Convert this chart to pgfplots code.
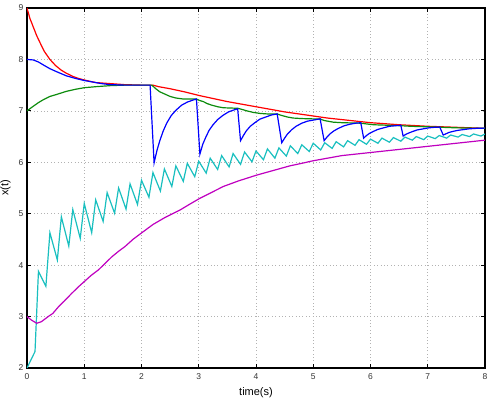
\documentclass[border=0pt]{standalone}
\usepackage{pgfplots}
\pgfplotsset{compat=1.18}
\usepackage{fontspec}
\setmainfont{Liberation Sans}
\definecolor{mred}{rgb}{1,0,0}
\definecolor{mblue}{rgb}{0,0,1}
\definecolor{mgreen}{rgb}{0.05,0.55,0.05}
\definecolor{mcyan}{rgb}{0.1,0.75,0.75}
\definecolor{mmag}{rgb}{0.75,0,0.75}
\begin{document}
\begin{tikzpicture}
\useasboundingbox (-27pt,-33pt) rectangle (466pt,368pt);
\begin{axis}[
  at={(0,0)}, anchor=south west,
  scale only axis, width=458pt, height=360pt,
  xmin=0, xmax=8, ymin=2, ymax=9,
  xtick={0,1,...,8}, ytick={2,3,...,9},
  grid=major,
  major grid style={dash pattern=on 0.8pt off 2.6pt, gray!60, line width=0.7pt},
  tick align=inside,
  major tick length=4pt,
  every tick/.style={black, line width=0.8pt},
  axis line style={black, line width=1.2pt},
  tick label style={font=\fontsize{8.5}{9}\selectfont, text=black!80},
  /pgf/number format/assume math mode=true,
  xticklabel style={yshift=-2pt},
  xlabel={time(s)}, ylabel={x(t)},
  every axis x label/.style={at={(axis description cs:0.5,-0.069)}, anchor=center, font=\fontsize{11}{12}\selectfont},
  every axis y label/.style={at={(axis description cs:-0.047,0.5)}, rotate=90, anchor=center, font=\fontsize{11}{12}\selectfont},
  every axis plot/.append style={line width=1.2pt},
  clip=true,
]
% red
\addplot[mred] coordinates {(0,9.0)(0.05,8.80)(0.11,8.63)(0.17,8.46)(0.23,8.32)(0.3,8.16)(0.4,8.0)(0.5,7.88)(0.6,7.79)(0.69,7.73)(0.8,7.67)(0.9,7.63)(1.0,7.6)(1.2,7.55)(1.45,7.53)(1.7,7.51)(2.0,7.5)(2.2,7.5)(2.3,7.47)(2.5,7.43)(2.75,7.37)(3.0,7.3)(3.25,7.24)(3.5,7.18)(3.75,7.13)(4.0,7.08)(4.25,7.03)(4.5,6.98)(4.75,6.94)(5.0,6.9)(5.25,6.86)(5.5,6.83)(5.75,6.8)(6.0,6.77)(6.5,6.73)(7.0,6.7)(7.5,6.68)(8.0,6.66)};
% green
\addplot[mgreen] coordinates {(0,7.0)(0.11,7.09)(0.2,7.16)(0.29,7.22)(0.4,7.28)(0.52,7.32)(0.69,7.38)(0.85,7.42)(1.0,7.45)(1.2,7.47)(1.45,7.49)(1.7,7.5)(2.18,7.5)(2.25,7.43)(2.32,7.37)(2.4,7.33)(2.5,7.28)(2.6,7.25)(2.73,7.23)(2.95,7.23)(3.02,7.2)(3.08,7.18)(3.15,7.14)(3.23,7.11)(3.33,7.08)(3.43,7.06)(3.68,7.05)(3.75,7.03)(3.84,7.0)(3.95,6.97)(4.07,6.95)(4.2,6.94)(4.37,6.94)(4.45,6.91)(4.55,6.88)(4.65,6.86)(4.8,6.85)(5.12,6.84)(5.2,6.81)(5.35,6.78)(5.5,6.77)(5.83,6.76)(5.9,6.75)(6.05,6.73)(6.3,6.72)(6.55,6.71)(6.7,6.70)(7.0,6.69)(7.25,6.68)(7.5,6.67)(8.0,6.66)};
% blue
\addplot[mblue] coordinates {(0,8.0)(0.11,7.99)(0.2,7.95)(0.29,7.89)(0.4,7.82)(0.52,7.76)(0.69,7.68)(0.85,7.63)(1.0,7.59)(1.15,7.56)(1.3,7.53)(1.45,7.51)(1.7,7.5)(2.15,7.5)
(2.22,5.99)(2.27,6.23)(2.32,6.42)(2.38,6.61)(2.44,6.76)(2.52,6.91)(2.6,7.01)(2.7,7.11)(2.8,7.17)(2.9,7.21)(2.96,7.23)
(3.02,6.16)(3.07,6.35)(3.12,6.48)(3.18,6.62)(3.25,6.73)(3.33,6.83)(3.42,6.91)(3.52,6.98)(3.62,7.02)(3.68,7.04)
(3.73,6.42)(3.78,6.52)(3.83,6.61)(3.9,6.70)(3.98,6.77)(4.07,6.84)(4.17,6.88)(4.27,6.92)(4.37,6.94)
(4.45,6.38)(4.5,6.47)(4.55,6.55)(4.62,6.63)(4.7,6.70)(4.8,6.76)(4.9,6.80)(5.0,6.82)(5.12,6.845)
(5.19,6.42)(5.24,6.49)(5.29,6.55)(5.36,6.61)(5.44,6.66)(5.54,6.71)(5.64,6.74)(5.74,6.76)(5.83,6.77)
(5.88,6.47)(5.93,6.52)(5.98,6.56)(6.05,6.60)(6.13,6.64)(6.23,6.67)(6.33,6.70)(6.43,6.71)(6.53,6.72)
(6.57,6.51)(6.62,6.545)(6.67,6.57)(6.74,6.60)(6.82,6.63)(6.92,6.65)(7.02,6.67)(7.12,6.68)(7.21,6.685)
(7.27,6.53)(7.32,6.555)(7.37,6.58)(7.44,6.60)(7.52,6.62)(7.62,6.635)(7.72,6.65)(7.85,6.66)(8.0,6.665)};
% cyan
\addplot[mcyan] coordinates {(0,2.0)(0.14,2.32)(0.2,3.88)(0.33,3.59)(0.4,4.63)(0.53,4.10)(0.6,4.94)(0.73,4.37)(0.8,5.08)(0.93,4.52)(1.0,5.20)(1.13,4.63)(1.2,5.27)(1.33,4.85)(1.4,5.41)(1.53,5.01)(1.6,5.50)(1.73,5.09)(1.8,5.58)(1.93,5.18)(2.0,5.65)(2.13,5.32)(2.2,5.80)(2.33,5.44)(2.4,5.87)(2.53,5.53)(2.6,5.93)(2.73,5.63)(2.8,5.98)(2.93,5.72)(3.0,6.02)(3.13,5.79)(3.2,6.08)(3.33,5.86)(3.4,6.13)(3.53,5.91)(3.6,6.17)(3.73,5.96)(3.8,6.20)(3.93,6.01)(4.0,6.22)(4.13,6.05)(4.2,6.26)(4.33,6.08)(4.4,6.28)(4.53,6.12)(4.6,6.32)(4.73,6.17)(4.8,6.34)(4.93,6.21)(5.0,6.37)(5.13,6.24)(5.2,6.38)(5.33,6.27)(5.4,6.40)(5.53,6.30)(5.6,6.42)(5.73,6.33)(5.8,6.44)(5.93,6.35)(6.0,6.45)(6.13,6.37)(6.2,6.47)(6.33,6.39)(6.4,6.48)(6.53,6.41)(6.6,6.49)(6.73,6.43)(6.8,6.50)(6.93,6.44)(7.0,6.51)(7.13,6.46)(7.2,6.52)(7.33,6.47)(7.4,6.53)(7.53,6.49)(7.6,6.54)(7.73,6.50)(7.8,6.55)(7.93,6.51)(8.0,6.55)};
% magenta
\addplot[mmag] coordinates {(0,3.0)(0.08,2.93)(0.17,2.87)(0.25,2.9)(0.37,3.0)(0.45,3.06)(0.55,3.19)(0.65,3.3)(0.78,3.45)(0.9,3.58)(1.0,3.68)(1.12,3.8)(1.25,3.91)(1.37,4.04)(1.48,4.16)(1.6,4.27)(1.71,4.36)(1.85,4.5)(2.03,4.65)(2.2,4.79)(2.4,4.92)(2.67,5.07)(2.85,5.19)(3.02,5.3)(3.2,5.4)(3.43,5.53)(3.7,5.64)(4.01,5.75)(4.3,5.84)(4.59,5.93)(4.8,5.98)(5.0,6.03)(5.25,6.08)(5.5,6.13)(5.75,6.16)(6.0,6.19)(6.5,6.25)(7.0,6.31)(7.5,6.37)(8.0,6.43)};
\end{axis}
\end{tikzpicture}
\end{document}
